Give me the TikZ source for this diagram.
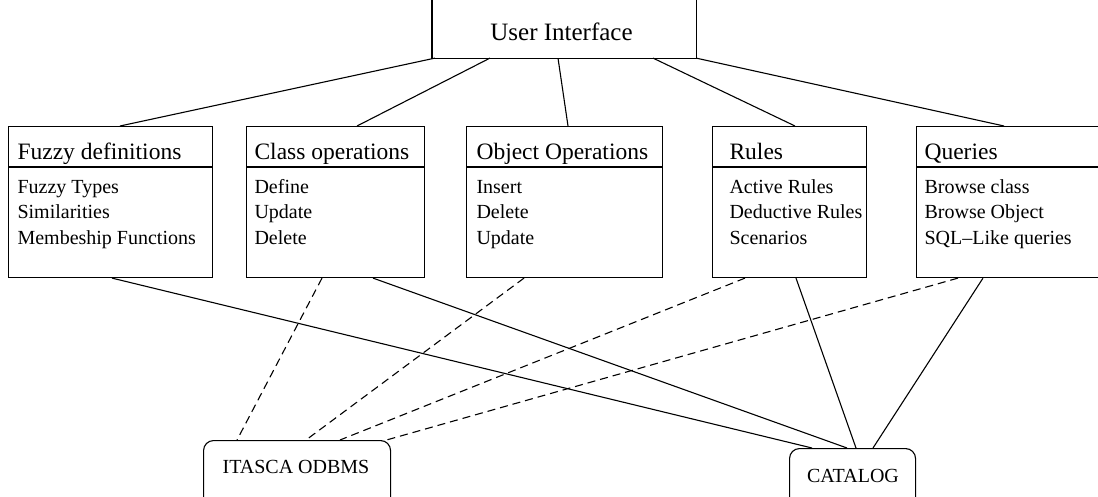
\documentclass[tikz,border=0pt]{standalone}
\usepackage{fontspec}
\setmainfont{Liberation Serif}
\usetikzlibrary{calc}

% A module panel: #1 name, #2 left edge, #3 width, #4 text indent, #5 heading, #6 entries
\newcommand{\modulepanel}[6]{%
  \node[panel, minimum width=#3pt] (#1) at (#2,126) {};
  \draw ([yshift=-41pt]#1.north west) -- ([yshift=-41pt]#1.north east);
  \node[head] (#1-head) at ([xshift=#4pt,yshift=-34pt]#1.north west) {#5};
  \foreach \entry [count=\k] in {#6}
    \node[entry] (#1-\k) at ([xshift=#4pt,yshift=-43pt-25pt*\k]#1.north west) {\entry};
}

\begin{document}
\begin{tikzpicture}[x=1pt,y=-1pt,line width=1.1pt,
  panel/.style={draw, rectangle, inner sep=0pt, anchor=north west, minimum height=151pt},
  store/.style={draw, rectangle, rounded corners=10pt, inner sep=0pt, anchor=north west},
  head/.style={anchor=base west, inner sep=0pt, font=\fontsize{23.5}{28}\selectfont},
  entry/.style={anchor=base west, inner sep=0pt, font=\fontsize{20}{24}\selectfont},
  label/.style={anchor=base, inner sep=0pt, font=\fontsize{20}{24}\selectfont},
  link/.style={line width=1.1pt},
  weak/.style={line width=1.1pt, dash pattern=on 8pt off 5pt}]
\useasboundingbox (0,0) rectangle (1098,497);
\clip (0,0) rectangle (1098,497);

% top-level interface box: only its sides and lower edge lie on the page
\node[rectangle, inner sep=0pt, anchor=north west,
      minimum width=263pt, minimum height=107pt] (ui) at (432,-50) {};
\draw (ui.north west) -- (ui.south west) -- (ui.south east) -- (ui.north east);
\node[anchor=base, inner sep=0pt, font=\fontsize{25}{30}\selectfont]
      (ui-label) at (561.5,41) {User Interface};

% module panels
\modulepanel{fuzzy}{8}{204}{9}{Fuzzy definitions}{Fuzzy Types, Similarities, Membeship Functions}
\modulepanel{class}{246}{178}{8}{Class operations}{Define, Update, Delete}
\modulepanel{object}{466}{196}{10}{Object Operations}{Insert, Delete, Update}
\modulepanel{rules}{712}{154}{17}{Rules}{Active Rules, Deductive Rules, Scenarios}
\modulepanel{queries}{916}{190}{8}{Queries}{Browse class, Browse Object, SQL{--}Like queries}

% storage back ends (lower edges run off the page)
\node[store, minimum width=187pt, minimum height=75pt] (itasca) at (203,440) {};
\node[label] (itasca-label) at (296,473) {ITASCA ODBMS};
\node[store, minimum width=126pt, minimum height=70pt] (catalog) at (789,448) {};
\node[label] (catalog-label) at (853,482) {CATALOG};

% interface to modules
\draw[link] ([xshift=3pt]ui.south west)   -- ([xshift=112pt]fuzzy.north west);
\draw[link] ([xshift=58pt]ui.south west)  -- ([xshift=111pt]class.north west);
\draw[link] ([xshift=126pt]ui.south west) -- ([xshift=102pt]object.north west);
\draw[link] ([xshift=221pt]ui.south west) -- ([xshift=83pt]rules.north west);
\draw[link] (ui.south east)               -- ([xshift=88pt]queries.north west);

% modules to the catalog
\draw[link] ([xshift=104pt]fuzzy.south west)  -- ([xshift=23pt]catalog.north west);
\draw[link] ([xshift=127pt]class.south west)  -- ([xshift=58pt]catalog.north west);
\draw[link] ([xshift=84pt]rules.south west)   -- ([xshift=67pt]catalog.north west);
\draw[link] ([xshift=67pt]queries.south west) -- ([xshift=84pt]catalog.north west);

% modules to the object store
\draw[weak] ([xshift=76pt]class.south west)   -- ([xshift=34pt]itasca.north west);
\draw[weak] ([xshift=58pt]object.south west)  -- ([xshift=103pt]itasca.north west);
\draw[weak] ([xshift=33pt]rules.south west)   -- ([xshift=137pt]itasca.north west);
\draw[weak] ([xshift=42pt]queries.south west) -- ([xshift=180pt,yshift=-1pt]itasca.north west);
\end{tikzpicture}
\end{document}
